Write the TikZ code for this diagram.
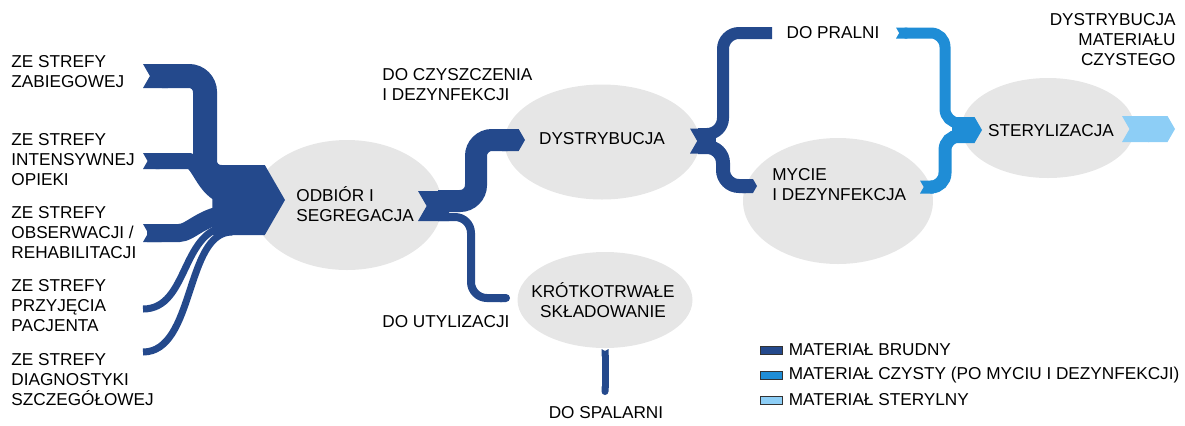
\documentclass[tikz,border=0pt]{standalone}
\usepackage{fontspec}
\setmainfont{Liberation Sans}
\usetikzlibrary{arrows.meta,shapes.geometric}
\definecolor{dirty}{HTML}{24498C}
\definecolor{washed}{HTML}{1F8DD6}
\definecolor{sterile}{HTML}{8DCEF6}
\definecolor{bubble}{HTML}{E6E6E6}

\begin{document}
\begin{tikzpicture}[x=0.5pt,y=-0.5pt,font=\fontsize{8.6}{10}\selectfont,
  blob/.style n args={2}{ellipse,fill=bubble,inner sep=0pt,minimum width=#1,minimum height=#2},
  lbl/.style={inner sep=0pt,align=left,anchor=west},
  txt/.style={inner sep=0pt,align=center},
  band/.style n args={2}{draw=#1,line width=#2,rounded corners=8pt},
  legbox/.style={draw=black!80,line width=0.4pt,inner sep=0pt,minimum width=11pt,minimum height=4pt}]
\useasboundingbox (0,0) rectangle (1185,425);

% bubbles
\node[blob={95pt}{65pt}] (odb) at (347,205) {};
\node[blob={97.5pt}{57.5pt}] (dys) at (602,142) {};
\node[blob={95pt}{63pt}] (myc) at (838,201) {};
\node[blob={86.5pt}{50pt}] (ster) at (1048,128) {};
\node[blob={87.5pt}{48pt}] (kro) at (605,300) {};

% zones
\foreach \y/\t [count=\i] in {72/{ZE STREFY\\ZABIEGOWEJ},160/{ZE STREFY\\INTENSYWNEJ\\OPIEKI},
  233/{ZE STREFY\\OBSERWACJI /\\REHABILITACJI},306/{ZE STREFY\\PRZYJĘCIA\\PACJENTA},
  380/{ZE STREFY\\DIAGNOSTYKI\\SZCZEGÓŁOWEJ}} {
   \node[lbl] (zone\i) at (11,\y) {\t};
}

\coordinate (t1) at (143,76);  \coordinate (e1) at (232,177);
\coordinate (t2) at (143,161); \coordinate (e2) at (232,197);
\coordinate (t3) at (143,233); \coordinate (e3) at (232,214);
\coordinate (t4) at (143,309); \coordinate (e4) at (232,226);
\coordinate (t5) at (143,352); \coordinate (e5) at (232,232);
\coordinate (mrg) at (230,200); \coordinate (oin) at (285,200);

\draw[band={dirty}{12pt},{Triangle Cap[reversed,cap angle=120]}-] (t1) -| (205,177) -- (e1);
\draw[band={dirty}{8pt},{Triangle Cap[reversed,cap angle=120]}-] (t2) -- ++(30,0) to[out=0,in=180] (e2);
\draw[band={dirty}{9pt},{Triangle Cap[reversed,cap angle=120]}-] (t3) -- ++(20,0) to[out=0,in=180] (e3);
\draw[band={dirty}{3.5pt}] (t4) .. controls (190,309) and (180,226) .. (e4);
\draw[band={dirty}{3.5pt}] (t5) .. controls (195,352) and (185,232) .. (e5);
\draw[dirty,line width=35pt,-{Triangle Cap[cap angle=120]}] (mrg) -- (oin);

% odbior -> dystrybucja / utylizacja
\coordinate (oout) at (418,206);
\coordinate (ou1) at (438,201); \coordinate (dysin) at (525,140);
\coordinate (ou2) at (438,217); \coordinate (kroin) at (510,298);
\draw[dirty,line width=15pt,{Triangle Cap[reversed,cap angle=120]}-] (oout) -- ++(24,0);
\draw[band={dirty}{11pt},-{Triangle Cap[cap angle=120]}] (ou1) -| (476,140) -- (dysin);
\draw[band={dirty}{4pt},-{Round Cap}] (ou2) -| (471,298) -- (kroin);

% dystrybucja -> pralnia / mycie
\coordinate (dout) at (690,141);
\coordinate (du1) at (698,134); \coordinate (pralin) at (772,33);
\coordinate (du2) at (698,147); \coordinate (mycin) at (757,186);
\draw[dirty,line width=12.5pt,{Triangle Cap[reversed,cap angle=120]}-] (dout) -- ++(12,0);
\draw[band={dirty}{6pt}] (du1) -| (723,33) -- (pralin);
\draw[band={dirty}{7pt},-{Triangle Cap[cap angle=120]}] (du2) -| (723,186) -- (mycin);

% czysty -> sterylizacja
\coordinate (pralout) at (896,33); \coordinate (s1) at (962,123);
\coordinate (mycout) at (920,187); \coordinate (s2) at (962,136);
\coordinate (sin) at (952,130); \coordinate (stin) at (982,130);
\draw[band={washed}{5.5pt},rounded corners=7pt,{Triangle Cap[reversed,cap angle=120]}-] (pralout) -| (945,123) -- (s1);
\draw[band={washed}{6.5pt},rounded corners=7pt,{Triangle Cap[reversed,cap angle=120]}-] (mycout) -| (945,136) -- (s2);
\draw[washed,line width=13pt,-{Triangle Cap[cap angle=120]}] (sin) -- (stin);

% sterylny
\coordinate (stout) at (1122,129); \coordinate (end) at (1175,129);
\draw[sterile,line width=13pt,{Triangle Cap[reversed,cap angle=120]}-{Triangle Cap[cap angle=120]}] (stout) -- (end);

% spalarnia
\coordinate (kout) at (605,349); \coordinate (spin) at (605,395);
\draw[dirty,line width=3.5pt,{Triangle Cap[reversed,cap angle=120]}-{Round Cap}] (kout) -- (spin);

% texts
\node[lbl] (odbt) at (296,204) {ODBIÓR I\\SEGREGACJA};
\node[txt] (dyst) at (602,139) {DYSTRYBUCJA};
\node[lbl] (myct) at (772,185) {MYCIE\\I DEZYNFEKCJA};
\node[txt] (stert) at (1051,131) {STERYLIZACJA};
\node[txt] (krot) at (603,300) {KRÓTKOTRWAŁE\\SKŁADOWANIE};
\node[lbl] (czy) at (382,85) {DO CZYSZCZENIA\\I DEZYNFEKCJI};
\node[lbl] (uty) at (382,322) {DO UTYLIZACJI};
\node[txt] (pral) at (833,33) {DO PRALNI};
\node[txt] (spal) at (606,413) {DO SPALARNI};
\node[inner sep=0pt,align=right,anchor=east] (czyst) at (1176,40) {DYSTRYBUCJA\\MATERIAŁU\\CZYSTEGO};

% legend
\foreach \c/\t [count=\i] in {dirty/MATERIAŁ BRUDNY,washed/MATERIAŁ CZYSTY (PO MYCIU I DEZYNFEKCJI),sterile/MATERIAŁ STERYLNY} {
   \node[legbox,fill=\c] (leg\i) at (771,{325+25*\i}) {};
   \node[lbl] (legt\i) at ([xshift=3pt]leg\i.east) {\t};
}
\end{tikzpicture}
\end{document}
